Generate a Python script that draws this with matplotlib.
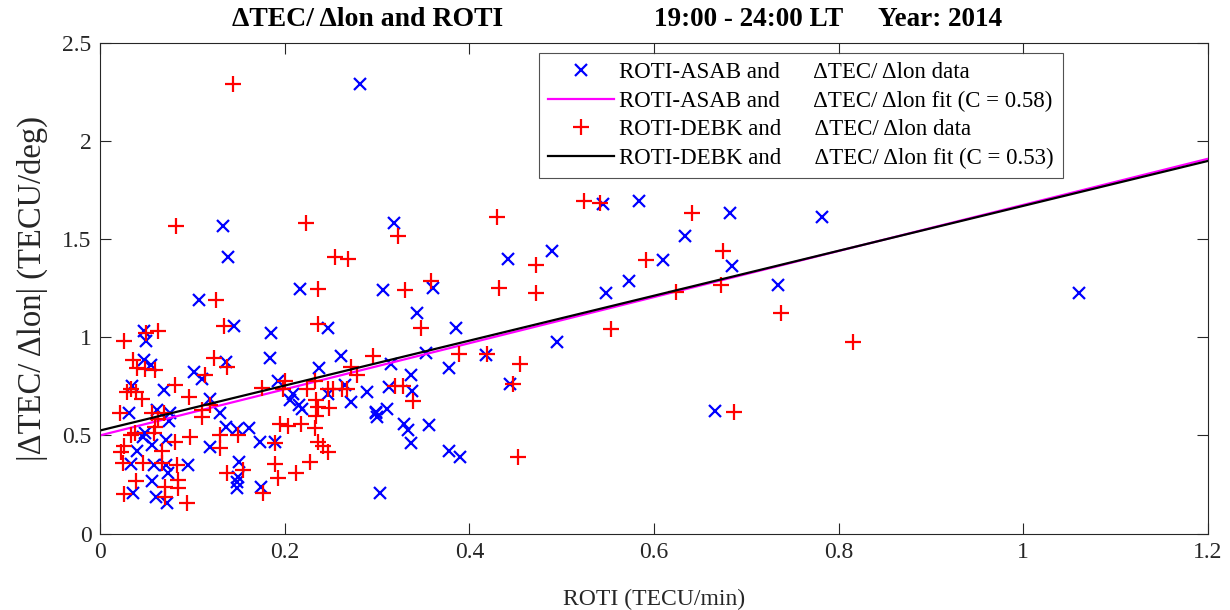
import matplotlib

matplotlib.use("Agg")
import matplotlib.pyplot as plt
import numpy as np

# ROTI (TECU/min) vs |dTEC/dlon| (TECU/deg), ASAB station
asab_roti = [
    0.282, 1.060, 0.782, 0.734, 0.682, 0.685, 0.634, 0.584, 0.610, 0.573,
    0.548, 0.545, 0.490, 0.442, 0.495, 0.666, 0.318, 0.307, 0.361, 0.343,
    0.386, 0.315, 0.353, 0.418, 0.378, 0.337, 0.313, 0.338, 0.444, 0.311,
    0.299, 0.300, 0.329, 0.334, 0.356, 0.337, 0.378, 0.390, 0.303, 0.133,
    0.139, 0.217, 0.107, 0.145, 0.247, 0.185, 0.184, 0.261, 0.237, 0.193,
    0.209, 0.265, 0.289, 0.247, 0.272, 0.206, 0.215, 0.219, 0.299, 0.148,
    0.161, 0.173, 0.189, 0.151, 0.150, 0.148, 0.148, 0.174, 0.048, 0.050,
    0.048, 0.055, 0.136, 0.102, 0.110, 0.035, 0.069, 0.119, 0.130, 0.031,
    0.062, 0.076, 0.075, 0.137, 0.049, 0.047, 0.056, 0.072, 0.040, 0.119,
    0.034, 0.059, 0.072, 0.095, 0.074, 0.056, 0.036, 0.061, 0.073,
]
asab_grad = [
    2.290, 1.227, 1.612, 1.265, 1.633, 1.363, 1.516, 1.694, 1.392, 1.285,
    1.225, 1.680, 1.440, 1.397, 0.976, 0.625, 1.584, 1.243, 1.253, 1.126,
    1.046, 0.863, 0.920, 0.908, 0.846, 0.807, 0.747, 0.727, 0.761, 0.637,
    0.620, 0.594, 0.557, 0.530, 0.552, 0.462, 0.421, 0.388, 0.208, 1.565,
    1.410, 1.246, 1.190, 1.060, 1.049, 1.024, 0.892, 0.903, 0.841, 0.778,
    0.713, 0.756, 0.722, 0.713, 0.671, 0.679, 0.654, 0.637, 0.612, 0.535,
    0.540, 0.467, 0.467, 0.366, 0.289, 0.264, 0.230, 0.238, 1.032, 0.981,
    0.886, 0.858, 0.874, 0.824, 0.790, 0.751, 0.730, 0.688, 0.612, 0.612,
    0.628, 0.612, 0.574, 0.543, 0.510, 0.493, 0.450, 0.476, 0.422, 0.442,
    0.352, 0.349, 0.349, 0.349, 0.309, 0.269, 0.205, 0.187, 0.157,
]

# DEBK station
debk_roti = [
    0.144, 0.082, 0.223, 0.323, 0.254, 0.269, 0.236, 0.126, 0.524, 0.542,
    0.430, 0.641, 0.675, 0.591, 0.624, 0.673, 0.738, 0.553, 0.815, 0.687,
    0.472, 0.432, 0.472, 0.330, 0.359, 0.348, 0.296, 0.389, 0.419, 0.455,
    0.320, 0.328, 0.339, 0.447, 0.453, 0.236, 0.272, 0.278, 0.200, 0.175,
    0.233, 0.198, 0.224, 0.247, 0.252, 0.262, 0.267, 0.234, 0.236, 0.248,
    0.234, 0.195, 0.204, 0.218, 0.233, 0.150, 0.190, 0.236, 0.241, 0.247,
    0.227, 0.189, 0.193, 0.212, 0.155, 0.177, 0.050, 0.063, 0.026, 0.134,
    0.036, 0.040, 0.049, 0.060, 0.124, 0.138, 0.114, 0.029, 0.034, 0.039,
    0.045, 0.081, 0.096, 0.111, 0.110, 0.119, 0.022, 0.056, 0.069, 0.063,
    0.060, 0.038, 0.034, 0.059, 0.097, 0.026, 0.023, 0.081, 0.067, 0.130,
    0.130, 0.025, 0.047, 0.067, 0.083, 0.039, 0.070, 0.085, 0.085, 0.026,
    0.070, 0.094, 0.138,
]
debk_grad = [
    2.290, 1.565, 1.585, 1.516, 1.410, 1.400, 1.246, 1.190, 1.694, 1.686,
    1.612, 1.633, 1.440, 1.392, 1.231, 1.265, 1.126, 1.044, 0.976, 0.620,
    1.366, 1.253, 1.227, 1.243, 1.285, 1.049, 0.904, 0.913, 0.917, 0.866,
    0.752, 0.752, 0.674, 0.764, 0.388, 1.066, 0.849, 0.807, 0.778, 0.744,
    0.778, 0.734, 0.734, 0.734, 0.734, 0.739, 0.734, 0.679, 0.645, 0.642,
    0.598, 0.557, 0.547, 0.556, 0.538, 0.501, 0.462, 0.464, 0.447, 0.416,
    0.366, 0.352, 0.284, 0.306, 0.323, 0.208, 1.020, 1.032, 0.981, 1.056,
    0.883, 0.845, 0.836, 0.832, 0.892, 0.847, 0.807, 0.722, 0.734, 0.722,
    0.683, 0.756, 0.696, 0.628, 0.594, 0.654, 0.612, 0.612, 0.612, 0.586,
    0.543, 0.510, 0.501, 0.513, 0.493, 0.445, 0.416, 0.465, 0.420, 0.501,
    0.434, 0.357, 0.357, 0.357, 0.349, 0.269, 0.238, 0.272, 0.230, 0.201,
    0.187, 0.157, 0.310,
]

# linear fits (intercept, slope)
asab_fit = (0.500, 1.175)
debk_fit = (0.525, 1.145)
asab_c = 0.58
debk_c = 0.53

plt.rcParams["font.family"] = ["Liberation Serif", "DejaVu Serif"]

fig = plt.figure(figsize=(12.3, 6.1), dpi=100)
ax = fig.add_axes([100 / 1230, 1 - 533.5 / 610, 1108 / 1230, 490.5 / 610])

gap = "      "
xfit = np.array([0, 1.2])
ax.plot(asab_roti, asab_grad, "x", color="blue", ms=9, mew=1.6,
        label=f"ROTI-ASAB and{gap}\u0394TEC/ \u0394lon data")
ax.plot(xfit, asab_fit[0] + asab_fit[1] * xfit, color="magenta", lw=1.6,
        label=f"ROTI-ASAB and{gap}\u0394TEC/ \u0394lon fit (C = {asab_c:.2f})")
ax.plot(debk_roti, debk_grad, "+", color="red", ms=11, mew=1.6,
        label=f"ROTI-DEBK and{gap}\u0394TEC/ \u0394lon data")
ax.plot(xfit, debk_fit[0] + debk_fit[1] * xfit, color="black", lw=1.6,
        label=f"ROTI-DEBK and{gap}\u0394TEC/ \u0394lon fit (C = {debk_c:.2f})")

ax.set_xlim(0, 1.2)
ax.set_ylim(0, 2.5)
ax.set_xticks(np.arange(0, 1.21, 0.2))
ax.set_xticklabels(["0", "0.2", "0.4", "0.6", "0.8", "1", "1.2"])
ax.set_yticks(np.arange(0, 2.51, 0.5))
ax.set_yticklabels(["0", "0.5", "1", "1.5", "2", "2.5"])
ax.tick_params(direction="in", top=True, right=True, length=8, width=0.8,
               labelsize=17, colors="#262626", pad=6)
for s in ax.spines.values():
    s.set_color("#262626")
    s.set_linewidth(0.8)

ax.set_xlabel("ROTI (TECU/min)", fontsize=17, color="#262626", labelpad=19)
ax.set_ylabel("|\u0394TEC/ \u0394lon| (TECU/deg)", fontsize=23.5, color="#262626", labelpad=10)

leg = ax.legend(loc="upper right", bbox_to_anchor=(0.869, 0.98), borderaxespad=0,
                fontsize=16.5, frameon=True, fancybox=False, handlelength=2.9,
                handletextpad=0.2, labelspacing=0.33, borderpad=0.4)
leg.get_frame().set_edgecolor("#262626")
leg.get_frame().set_linewidth(0.8)

ty = 1 - 19 / 610
fig.text(368 / 1230, ty, "\u0394TEC/ \u0394lon and ROTI", ha="center", va="center",
         fontsize=20, fontweight="bold")
fig.text(749 / 1230, ty, "19:00 - 24:00 LT", ha="center", va="center",
         fontsize=19.5, fontweight="bold")
fig.text(940 / 1230, ty, "Year: 2014", ha="center", va="center",
         fontsize=19.5, fontweight="bold")

fig.savefig("out.png", dpi=100)
